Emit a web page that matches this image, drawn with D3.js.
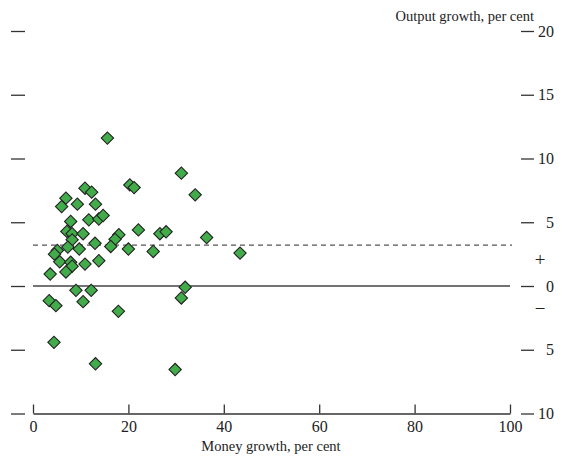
<!DOCTYPE html>
<html>
<head>
<meta charset="utf-8">
<script src="https://cdn.jsdelivr.net/npm/d3@7"></script>
<style>
  body { margin: 0; background: #fff; }
  svg { font-family: "Liberation Serif", "DejaVu Serif", serif; }
</style>
</head>
<body>
<div id="chart"></div>
<script>
// money growth (x) and output growth (y), per cent
const moneyGrowth = [
    15.6, 31.1, 20.3, 21.2, 34.0, 10.9, 12.3, 6.9, 6.0, 9.3,
    13.1, 7.9, 11.7, 13.8, 14.7, 7.1, 8.2, 10.5, 8.2, 18.0,
    17.2, 22.1, 26.6, 27.9, 36.4, 13.0, 16.3, 20.0, 25.2, 9.7,
    7.3, 5.1, 4.5, 43.4, 31.9, 31.1, 5.6, 7.9, 8.2, 6.9,
    3.6, 10.9, 13.8, 9.0, 12.2, 3.4, 4.8, 10.5, 17.9, 4.4,
    13.1, 29.8
];
const outputGrowth = [
    11.6, 8.85, 7.93, 7.72, 7.15, 7.67, 7.36, 6.89, 6.23, 6.42,
    6.42, 5.06, 5.19, 5.25, 5.53, 4.28, 4.1, 4.1, 3.62, 4.02,
    3.66, 4.4, 4.1, 4.25, 3.8, 3.35, 3.1, 2.9, 2.71, 2.9,
    3.05, 2.79, 2.5, 2.58, -0.1, -0.94, 1.9, 1.86, 1.55, 1.1,
    0.94, 1.72, 1.98, -0.34, -0.34, -1.15, -1.54, -1.23, -1.99, -4.42,
    -6.1, -6.55
];
const xTicks = [0, 20, 40, 60, 80, 100];
const yTicks = [20, 15, 10, 5, 0, -5, -10];
const meanOutput = 3.2;

const width = 563, height = 463;
const ink = '#222';
const svg = d3.select('#chart').append('svg')
    .attr('width', width)
    .attr('height', height);

const x = d3.scaleLinear().domain([0, 100]).range([33, 510]);
const y = d3.scaleLinear().domain([-10, 20]).range([413.5, 31]);

// x axis with ticks pointing up
const xAxis = svg.append('g')
    .attr('transform', `translate(0,${y(-10)})`)
    .call(d3.axisBottom(x).tickValues(xTicks).tickSizeInner(-9).tickSizeOuter(0).tickPadding(7));
xAxis.select('.domain').attr('stroke', '#333').attr('stroke-width', 1.3);
xAxis.selectAll('.tick line').attr('stroke', '#333').attr('stroke-width', 1.3);
xAxis.selectAll('.tick text')
    .style('font-size', '16px')
    .attr('fill', ink)
    .attr('font-family', '"Liberation Serif", serif');

svg.append('text')
    .attr('x', 271)
    .attr('y', 451)
    .attr('text-anchor', 'middle')
    .style('font-size', '14.5px')
    .attr('fill', ink)
    .text('Money growth, per cent');

// left tick dashes
const leftAxis = svg.append('g')
    .attr('transform', 'translate(25,0)')
    .call(d3.axisLeft(y).tickValues(yTicks).tickSize(14).tickFormat(''));
leftAxis.select('.domain').remove();
leftAxis.selectAll('.tick line').attr('stroke', '#333').attr('stroke-width', 1.3);

// right tick dashes with labels
const rightAxis = svg.append('g')
    .attr('transform', 'translate(521,0)')
    .call(d3.axisRight(y).tickValues(yTicks).tickSize(13).tickFormat(d => Math.abs(d)));
rightAxis.select('.domain').remove();
rightAxis.selectAll('.tick line').attr('stroke', '#333').attr('stroke-width', 1.3);
rightAxis.selectAll('.tick text')
    .attr('x', 33)
    .attr('text-anchor', 'end')
    .style('font-size', '16px')
    .attr('fill', ink)
    .attr('font-family', '"Liberation Serif", serif');

// sign markers above and below zero
svg.append('text')
    .attr('x', 540).attr('y', y(2.1))
    .attr('dy', '0.35em')
    .attr('text-anchor', 'middle')
    .style('font-size', '19px')
    .attr('fill', ink)
    .text('+');
svg.append('text')
    .attr('x', 540).attr('y', y(-1.75))
    .attr('dy', '0.35em')
    .attr('text-anchor', 'middle')
    .style('font-size', '19px')
    .attr('fill', ink)
    .text('−');

svg.append('text')
    .attr('x', 534)
    .attr('y', 21)
    .attr('text-anchor', 'end')
    .style('font-size', '14.5px')
    .attr('fill', ink)
    .text('Output growth, per cent');

// zero line and mean line
svg.append('line')
    .attr('x1', x(0)).attr('x2', x(100))
    .attr('y1', y(0)).attr('y2', y(0))
    .attr('stroke', '#444').attr('stroke-width', 1.3);
svg.append('line')
    .attr('x1', x(0)).attr('x2', 512)
    .attr('y1', y(meanOutput)).attr('y2', y(meanOutput))
    .attr('stroke', '#555').attr('stroke-width', 1.2)
    .attr('stroke-dasharray', '5,4');

// diamonds
const points = moneyGrowth.map((m, i) => ({ m: m, o: outputGrowth[i] }));
svg.selectAll('.pt')
    .data(points)
    .enter()
    .append('path')
    .attr('class', 'pt')
    .attr('d', d3.symbol().type(d3.symbolSquare).size(76))
    .attr('transform', d => `translate(${x(d.m)},${y(d.o)}) rotate(45)`)
    .attr('fill', '#42ac4a')
    .attr('stroke', '#222')
    .attr('stroke-width', 1.1);
</script>
</body>
</html>
